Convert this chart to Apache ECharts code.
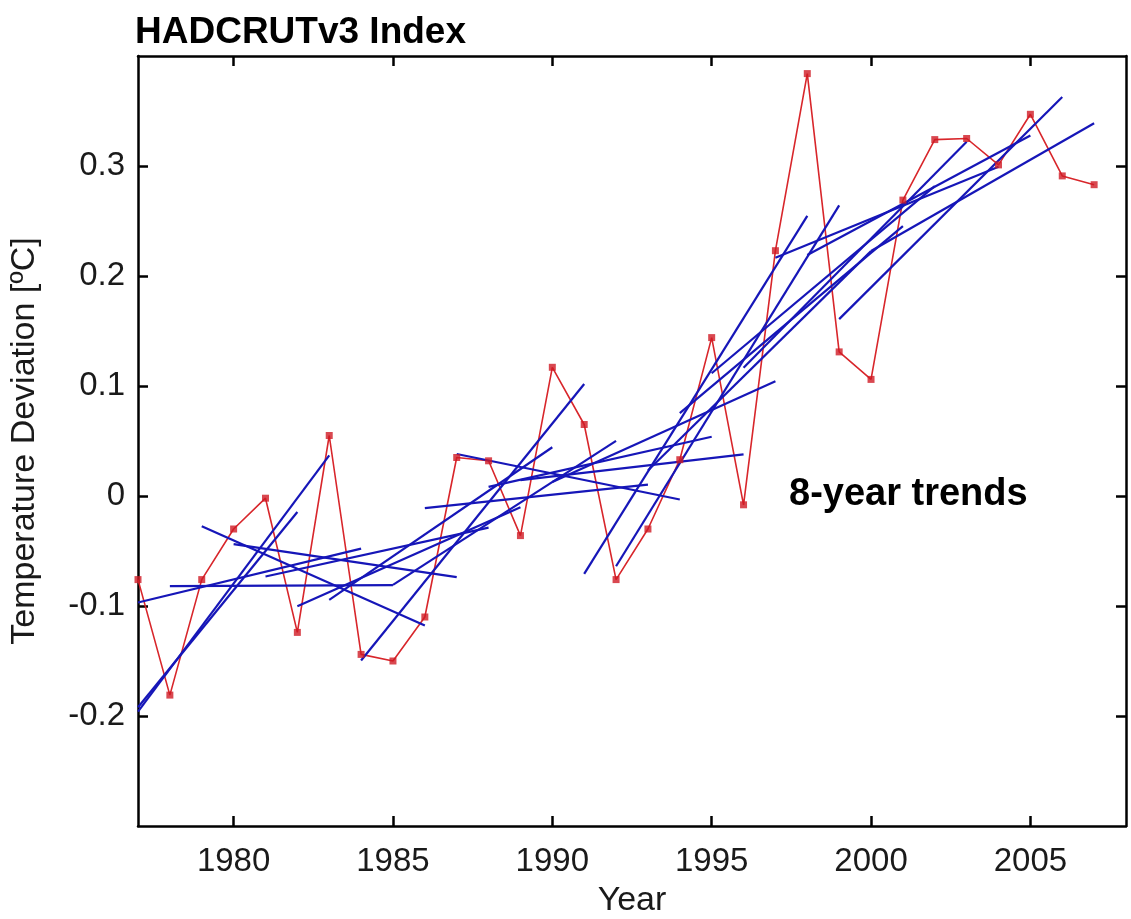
<!DOCTYPE html>
<html>
<head>
<meta charset="utf-8">
<title>HADCRUTv3 Index</title>
<script src="https://cdn.jsdelivr.net/npm/echarts@6/dist/echarts.min.js"></script>
<style>
  html, body { margin: 0; padding: 0; background: #ffffff; }
  #chart { width: 1131px; height: 919px; }
</style>
</head>
<body>
<div id="chart"></div>
<script>
// Annual global temperature deviation, HADCRUTv3 (°C)
const years = [1977, 1978, 1979, 1980, 1981, 1982, 1983, 1984, 1985, 1986,
               1987, 1988, 1989, 1990, 1991, 1992, 1993, 1994, 1995, 1996,
               1997, 1998, 1999, 2000, 2001, 2002, 2003, 2004, 2005, 2006, 2007];
const anomaly = [-0.076, -0.181, -0.076, -0.030, -0.002, -0.124, 0.055, -0.144, -0.150, -0.110,
                 0.035, 0.032, -0.036, 0.117, 0.065, -0.076, -0.030, 0.033, 0.144, -0.008,
                 0.223, 0.384, 0.131, 0.106, 0.269, 0.324, 0.325, 0.301, 0.347, 0.291, 0.283];

// 8-year trend segments: visible start/end year and value of each fitted line
const trendStartYear  = [1977, 1977, 1977, 1978, 1979, 1980, 1981, 1982, 1983, 1984,
                         1985, 1986, 1987, 1988, 1989, 1990, 1991, 1992, 1993, 1994,
                         1995, 1996, 1997, 1998, 1999, 2000];
const trendEndYear    = [1983, 1982, 1984, 1985, 1986, 1987, 1988, 1989, 1990, 1991,
                         1992, 1993, 1994, 1995, 1996, 1997, 1998, 1999, 2000, 2001,
                         2002, 2003, 2004, 2005, 2006, 2007];
const trendStartValue = [-0.196, -0.192, -0.0968, -0.0819, -0.0274, -0.0437, -0.0732, -0.1002, -0.0945, -0.1496,
                         -0.0808, -0.0111, 0.0382, 0.0083, 0.0144, 0.0127, -0.0708, -0.0639, 0.0232, 0.0753,
                         0.1116, 0.1165, 0.2165, 0.2191, 0.1608, 0.2227];
const trendEndValue   = [0.037, -0.0145, -0.0478, -0.0811, -0.1178, -0.0738, -0.0288, -0.0103, 0.0443, 0.1018,
                         0.0501, 0.0103, -0.0032, 0.0539, 0.0378, 0.1043, 0.2546, 0.2642, 0.2226, 0.2453,
                         0.2817, 0.3220, 0.2993, 0.3277, 0.3627, 0.3388];

// Tick positions
const xTickYears = [1980, 1985, 1990, 1995, 2000, 2005];
const yTickValues = [-0.2, -0.1, 0, 0.1, 0.2, 0.3];

const FONT = '"Liberation Sans", Arial, Helvetica, sans-serif';
const AXIS_COLOR = '#000000';
const TEXT_COLOR = '#1a1a1a';
const RED = '#d8262b';
const BLUE = '#1616b8';

const chart = echarts.init(document.getElementById('chart'), null, { renderer: 'canvas' });

const axisLineStyle = { show: true, onZero: false, lineStyle: { color: AXIS_COLOR, width: 2.5 } };
const tickStyle = (vals) => ({
  show: true, inside: true, length: 10, customValues: vals,
  lineStyle: { color: AXIS_COLOR, width: 2.5 }
});

const trendSeries = trendStartYear.map((y0, i) => ({
  type: 'line',
  name: 'trend' + i,
  xAxisIndex: 0,
  yAxisIndex: 0,
  data: [[y0, trendStartValue[i]], [trendEndYear[i], trendEndValue[i]]],
  showSymbol: false,
  symbol: 'none',
  silent: true,
  animation: false,
  clip: true,
  z: 3,
  lineStyle: { color: BLUE, width: 2.2 }
}));

const dataPairs = years.map((y, i) => [y, anomaly[i]]);

const option = {
  backgroundColor: '#ffffff',
  animation: false,
  title: {
    text: 'HADCRUTv3 Index',
    left: 130,
    top: 9,
    textStyle: { fontFamily: FONT, fontSize: 37, fontWeight: 'bold', color: '#000000' }
  },
  grid: {
    left: 138, top: 56, right: 5, bottom: 93,
    containLabel: false,
    outerBoundsMode: 'none'
  },
  xAxis: [
    {
      type: 'value', min: 1977, max: 2008, position: 'bottom',
      name: 'Year', nameLocation: 'middle', nameGap: 58,
      nameTextStyle: { fontFamily: FONT, fontSize: 34, color: TEXT_COLOR },
      axisLine: axisLineStyle,
      axisTick: tickStyle(xTickYears),
      axisLabel: {
        show: true, customValues: xTickYears, margin: 19,
        fontFamily: FONT, fontSize: 33, color: TEXT_COLOR,
        formatter: (v) => String(v)
      },
      splitLine: { show: false }
    },
    {
      type: 'value', min: 1977, max: 2008, position: 'top',
      axisLine: axisLineStyle,
      axisTick: tickStyle(xTickYears),
      axisLabel: { show: false },
      splitLine: { show: false }
    }
  ],
  yAxis: [
    {
      type: 'value', min: -0.3, max: 0.4, position: 'left',
      name: 'Temperature Deviation [ºC]', nameLocation: 'middle', nameGap: 96, nameRotate: 90,
      nameTextStyle: { fontFamily: FONT, fontSize: 34, color: TEXT_COLOR },
      axisLine: axisLineStyle,
      axisTick: tickStyle(yTickValues),
      axisLabel: {
        show: true, customValues: yTickValues, margin: 13,
        fontFamily: FONT, fontSize: 33, color: TEXT_COLOR,
        formatter: (v) => (Math.abs(v) < 1e-9 ? '0' : v.toFixed(1))
      },
      splitLine: { show: false }
    },
    {
      type: 'value', min: -0.3, max: 0.4, position: 'right',
      axisLine: axisLineStyle,
      axisTick: tickStyle(yTickValues),
      axisLabel: { show: false },
      splitLine: { show: false }
    }
  ],
  graphic: [
    {
      type: 'text',
      left: 789,
      top: 476,
      style: {
        text: '8-year trends',
        font: 'bold 38px ' + FONT,
        fill: '#000000'
      },
      z: 10
    }
  ],
  series: [
    {
      type: 'line',
      name: 'HADCRUTv3',
      data: dataPairs,
      showSymbol: false,
      symbol: 'none',
      silent: true,
      clip: true,
      z: 2,
      lineStyle: { color: RED, width: 1.6 }
    },
    ...trendSeries,
    {
      type: 'scatter',
      name: 'HADCRUTv3 points',
      data: dataPairs,
      symbol: 'rect',
      symbolSize: 7,
      silent: true,
      clip: false,
      z: 5,
      itemStyle: { color: '#d01a24' }
    }
  ]
};

chart.setOption(option);
</script>
</body>
</html>
